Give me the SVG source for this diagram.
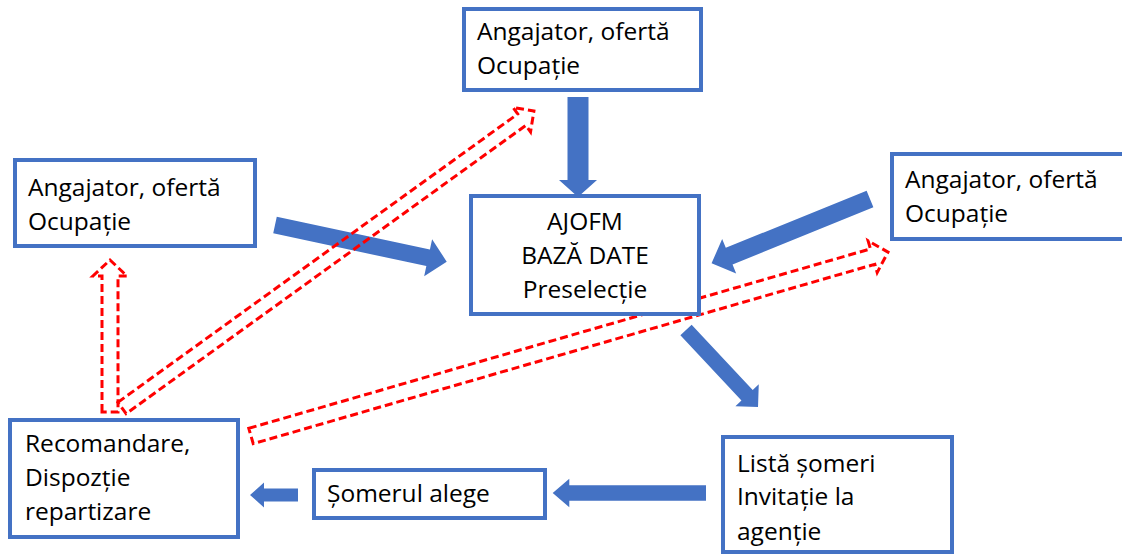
<svg xmlns="http://www.w3.org/2000/svg" width="1122" height="554" viewBox="0 0 1122 554">
<style>
.box{fill:#fff;stroke:#4472C4;stroke-width:4}
.t{font-family:"Open Sans","Liberation Sans",sans-serif;font-size:24.5px;fill:#000}
.blue{fill:#4472C4;stroke:none}
.red{fill:none;stroke:#FF0000;stroke-width:3;stroke-dasharray:8 4;stroke-linejoin:miter}
</style>
<rect width="1122" height="554" fill="#fff"/>
<g id="connectors">
  <polygon class="blue" transform="translate(578,97) rotate(90)" points="0,-10.5 83,-10.5 83,-19 100,0 83,19 83,10.5 0,10.5"/>
  <polygon class="blue" transform="translate(275,225) rotate(12.07)" points="0,-8.5 156.6,-8.5 156.6,-19 175.6,0 156.6,19 156.6,8.5 0,8.5"/>
  <polygon class="blue" transform="translate(870,199) rotate(157.9)" points="0,-9 152,-9 152,-18.6 171,0 152,18.6 152,9 0,9"/>
  <polygon class="blue" transform="translate(686,330) rotate(46.9)" points="0,-7.7 89.4,-7.7 89.4,-16 105.4,0 89.4,16 89.4,7.7 0,7.7"/>
  <polygon class="blue" transform="translate(706,493) rotate(180)" points="0,-7.8 136.7,-7.8 136.7,-14.2 153.3,0 136.7,14.2 136.7,7.8 0,7.8"/>
  <polygon class="blue" transform="translate(298,495) rotate(180)" points="0,-6.5 34,-6.5 34,-12.5 48,0 34,12.5 34,6.5 0,6.5"/>
  <polygon class="red" transform="translate(110,412) rotate(-90)" points="0,-8 136,-8 136,-17 152,0 136,17 136,8 0,8"/>
  <polygon class="red" transform="translate(122,408) rotate(-35.8)" points="0,-7 492.9,-7 492.9,-15 507.9,0 492.9,15 492.9,7 0,7"/>
  <polygon class="red" transform="translate(251,436) rotate(-16.1)" points="0,-8 647,-8 647,-16.5 663,0 647,16.5 647,8 0,8"/>
</g>
<g id="n-top">
  <rect class="box" x="464" y="9" width="237" height="81"/>
  <text class="t" x="477" y="40">Angajator, ofertă</text>
  <text class="t" x="477" y="74">Ocupație</text>
</g>
<g id="n-left">
  <rect class="box" x="15" y="160" width="240" height="86"/>
  <text class="t" x="28" y="196">Angajator, ofertă</text>
  <text class="t" x="28" y="230">Ocupație</text>
</g>
<g id="n-right">
  <rect class="box" x="892" y="154" width="240" height="85"/>
  <text class="t" x="905" y="188">Angajator, ofertă</text>
  <text class="t" x="905" y="222">Ocupație</text>
</g>
<g id="n-ajofm">
  <rect class="box" x="471" y="196" width="228" height="118"/>
  <text class="t" x="585" y="230" text-anchor="middle">AJOFM</text>
  <text class="t" x="585" y="264" text-anchor="middle">BAZĂ DATE</text>
  <text class="t" x="585" y="298" text-anchor="middle">Preselecție</text>
</g>
<g id="n-recomandare">
  <rect class="box" x="10" y="420" width="228" height="117"/>
  <text class="t" x="25" y="452">Recomandare,</text>
  <text class="t" x="25" y="486">Dispozție</text>
  <text class="t" x="25" y="520">repartizare</text>
</g>
<g id="n-somerul">
  <rect class="box" x="314" y="470" width="231" height="48"/>
  <text class="t" x="327" y="502">Șomerul alege</text>
</g>
<g id="n-lista">
  <rect class="box" x="723" y="437" width="229" height="115"/>
  <text class="t" x="737" y="472">Listă șomeri</text>
  <text class="t" x="737" y="505">Invitație la</text>
  <text class="t" x="737" y="540">agenție</text>
</g>
</svg>
